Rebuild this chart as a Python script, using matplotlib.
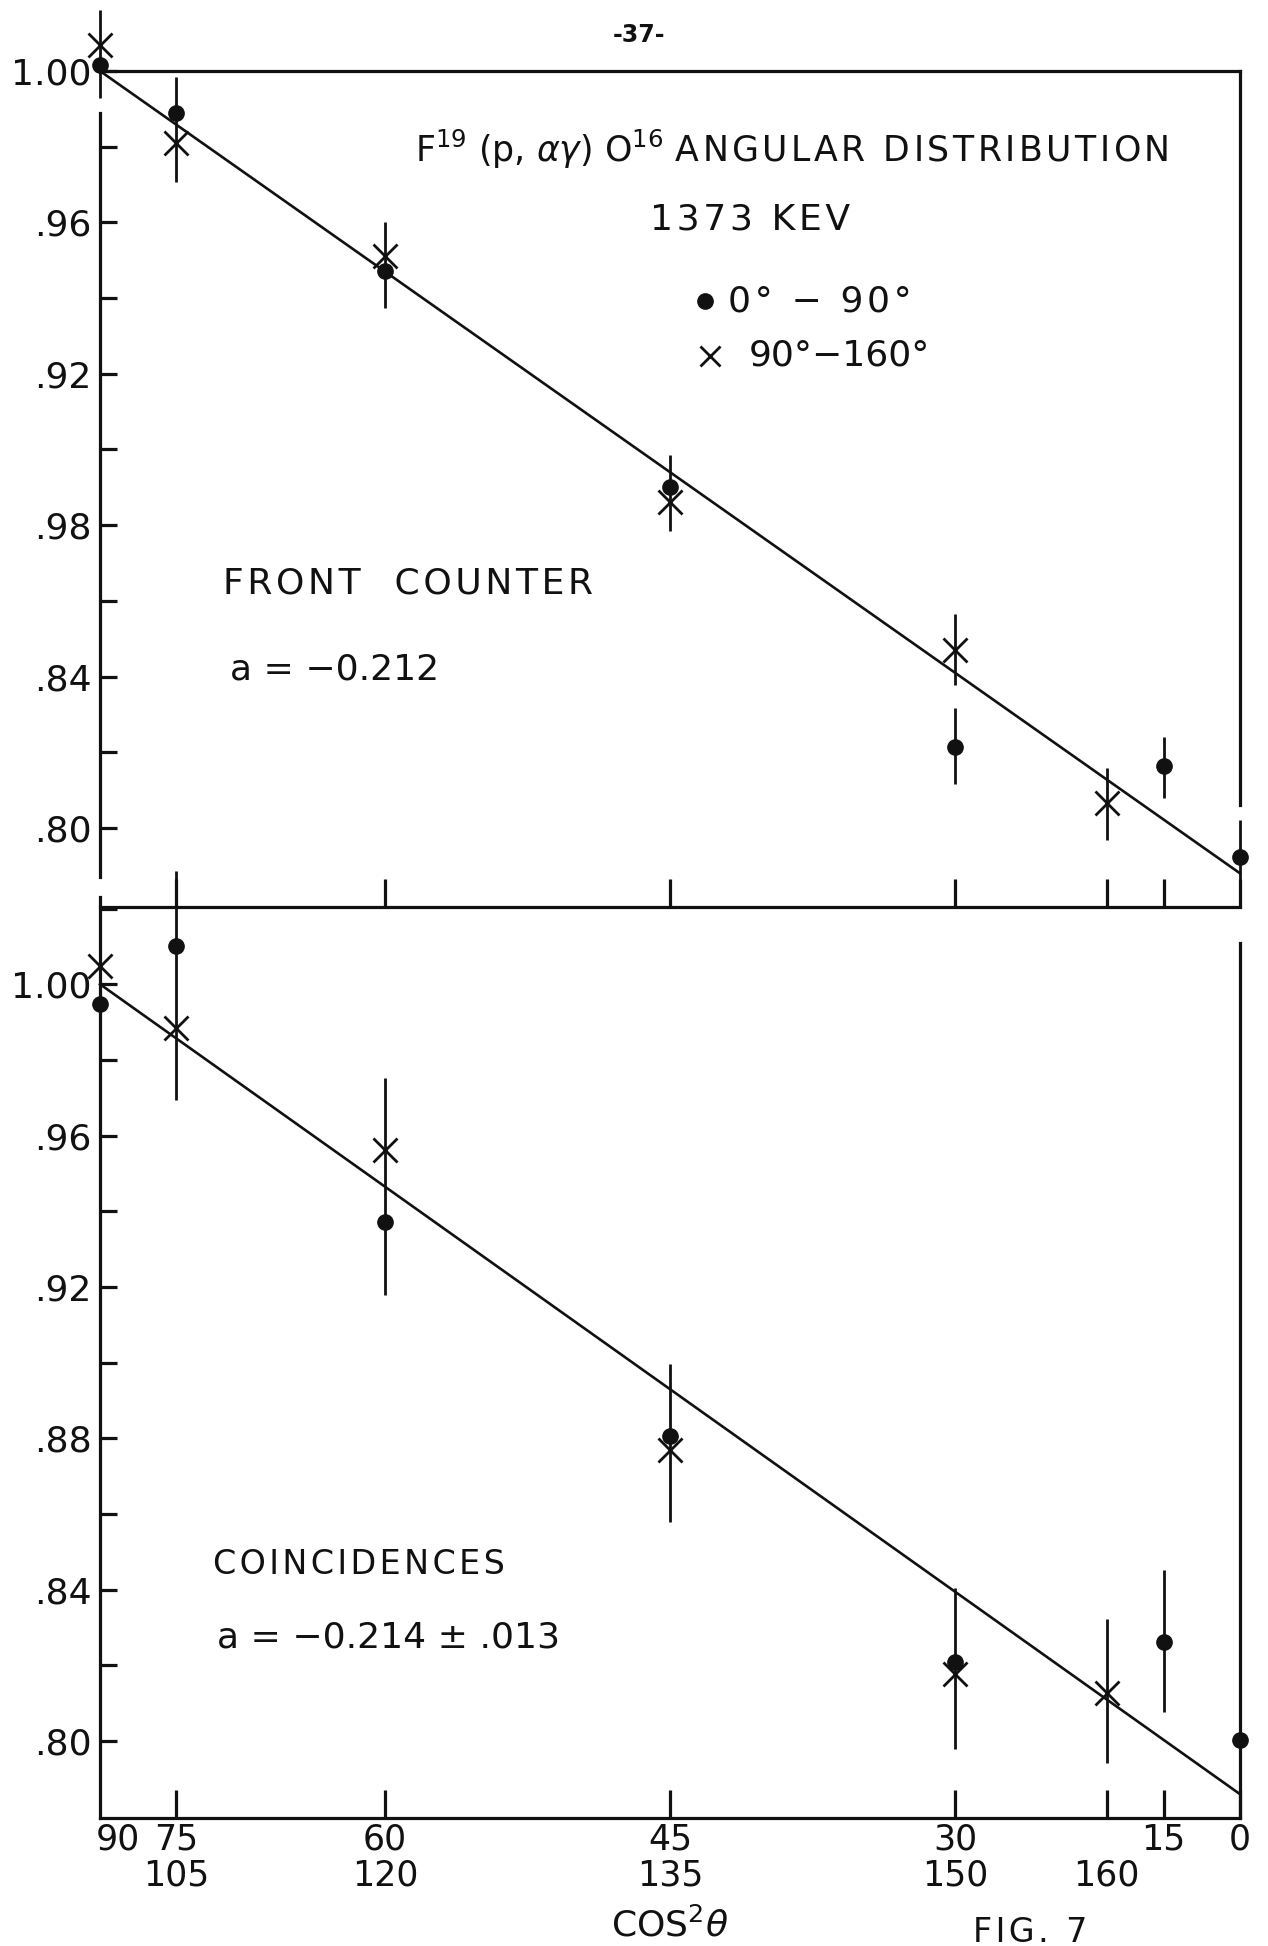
import numpy as np
import matplotlib.pyplot as plt

plt.rcParams['font.family'] = ['DejaVu Sans']
plt.rcParams['mathtext.fontset'] = 'dejavusans'

# angles (deg) of the measurements; abscissa is cos^2(theta)
dot_angles = [90, 75, 60, 45, 30, 15, 0]
cross_angles = [90, 105, 120, 135, 150, 160]

# front counter, relative intensity
front_dot = [1.0016, 0.9889, 0.9472, 0.8900, 0.8214, 0.8164, 0.7923]
front_cross = [1.0069, 0.9810, 0.9510, 0.8862, 0.8470, 0.8065]
front_bar_angles = [90, 75, 60, 45, 150, 30, 160, 15, 0]
front_bar_lo = [0.9929, 0.9707, 0.9375, 0.8785, 0.8378, 0.8116, 0.7968, 0.8080, 0.7836]
front_bar_hi = [1.0161, 0.9984, 0.9600, 0.8986, 0.8565, 0.8317, 0.8159, 0.8240, 0.8021]
front_a = -0.212

# coincidences
coinc_dot = [0.9948, 1.0100, 0.9373, 0.8806, 0.8209, 0.8262, 0.8003]
coinc_cross = [1.0047, 0.9885, 0.9562, 0.8770, 0.8177, 0.8127]
coinc_bar_angles = [75, 60, 45, 30, 160, 15]
coinc_bar_lo = [0.9695, 0.9178, 0.8579, 0.7979, 0.7942, 0.8077]
coinc_bar_hi = [1.0300, 0.9751, 0.8996, 0.8404, 0.8322, 0.8452]
coinc_a = -0.214

# axis labelling
tick_angles = [90, 75, 60, 45, 30, 20, 15, 0]
row1_labels = ['90', '75', '60', '45', '30', '', '15', '0']
row2_labels = ['', '105', '120', '135', '150', '160', '', '']
front_yticks = [1.00, 0.96, 0.92, 0.88, 0.84, 0.80]
front_ylabels = ['1.00', '.96', '.92', '.98', '.84', '.80']
coinc_yticks = [1.00, 0.96, 0.92, 0.88, 0.84, 0.80]
coinc_ylabels = ['1.00', '.96', '.92', '.88', '.84', '.80']


def cos2(deg):
    return np.cos(np.radians(deg)) ** 2


def spaced(s):
    # lettering-guide look: a hair space between characters
    return '\u200a'.join(s)


W, H = 1268, 1946
fig = plt.figure(figsize=(W / 100, H / 100), dpi=100)
ax1 = fig.add_axes([100 / W, 1 - 907 / H, 1140 / W, 836 / H])
ax2 = fig.add_axes([100 / W, 1 - 1818 / H, 1140 / W, 911 / H])
for ax in (ax1, ax2):
    ax.patch.set_visible(False)

ink = '#111111'
lw = 2.3


def panel(ax, dots, crosses, bar_ang, lo, hi, a, yticks, ylabels, ylim):
    ax.set_xlim(0, 1)
    ax.set_ylim(*ylim)
    c = np.array([0.0, 1.0])
    ax.plot(c, 1 + a * c, color=ink, lw=1.9, clip_on=False)
    ax.vlines(cos2(np.array(bar_ang)), lo, hi, color=ink, lw=2.0, clip_on=False)
    ax.plot(cos2(np.array(dot_angles)), dots, 'o', ms=11, color=ink, clip_on=False, zorder=5)
    ax.plot(cos2(np.array(cross_angles)), crosses, 'x', ms=17, mew=2.0, color=ink,
            clip_on=False, zorder=5)
    ax.set_yticks(np.arange(0.80, ylim[1], 0.02), minor=True)
    ax.set_yticks(yticks)
    ax.set_yticklabels(ylabels)
    ax.tick_params(axis='y', which='both', direction='in', length=12, width=lw,
                   labelsize=26, pad=6, colors=ink)
    ax.set_xticks(cos2(np.array(tick_angles[1:])))
    ax.tick_params(axis='x', direction='in', length=20, width=lw, labelbottom=False,
                   colors=ink)
    for s in ax.spines.values():
        s.set_linewidth(lw)
        s.set_color(ink)


panel(ax1, front_dot, front_cross, front_bar_angles, front_bar_lo, front_bar_hi,
      front_a, front_yticks, front_ylabels, (0.7791, 1.0))
panel(ax2, coinc_dot, coinc_cross, coinc_bar_angles, coinc_bar_lo, coinc_bar_hi,
      coinc_a, coinc_yticks, coinc_ylabels, (0.7797, 1.0204))

ax1.spines['left'].set_bounds(0.787, 0.989)
ax1.spines['right'].set_bounds(0.806, 1.0)
ax2.spines['top'].set_visible(False)
ax2.spines['left'].set_bounds(0.7797, 1.023)
ax2.spines['right'].set_bounds(0.7797, 1.011)

# two-row angle labels under the lower panel
tr = ax2.get_xaxis_transform()
for ang, l1, l2 in zip(tick_angles, row1_labels, row2_labels):
    x = cos2(ang)
    if ang == 90:
        x = 0.016
    ax2.text(x, -0.024, l1, transform=tr, ha='center', va='center', fontsize=25, color=ink)
    ax2.text(x, -0.0626, l2, transform=tr, ha='center', va='center', fontsize=25, color=ink)


def ftext(x, y, s, **kw):
    kw.setdefault('fontsize', 26)
    kw.setdefault('color', ink)
    fig.text(x / W, 1 - y / H, s, va='center', **kw)


ftext(639, 35, '-37-', ha='center', fontsize=17, fontweight='bold')
ftext(415, 149, r'F$^{19}$ (p, $\alpha\gamma$) O$^{16}$ ' + spaced('ANGULAR DISTRIBUTION'),
      ha='left', fontsize=25)
ftext(750, 220, spaced('1373 KEV'), ha='center')
ftext(728, 301, spaced('0° − 90°'), ha='left')
ftext(749, 356, '90°−160°', ha='left')
fig.add_artist(plt.Line2D([705 / W], [1 - 301 / H], marker='o', ms=11, color=ink, ls=''))
fig.add_artist(plt.Line2D([710 / W], [1 - 356 / H], marker='x', ms=15, mew=2.0, color=ink, ls=''))
ftext(223, 583, spaced('FRONT  COUNTER'), ha='left')
ftext(230, 670, 'a = −0.212', ha='left')
ftext(213, 1565, spaced('COINCIDENCES'), ha='left', fontsize=24)
ftext(217, 1637, 'a = −0.214 ± .013', ha='left')
ftext(670, 1925, r'COS$^2\theta$', ha='center')
ftext(1030, 1932, spaced('FIG. 7'), ha='center', fontsize=24)

fig.savefig('out.png', dpi=100)
